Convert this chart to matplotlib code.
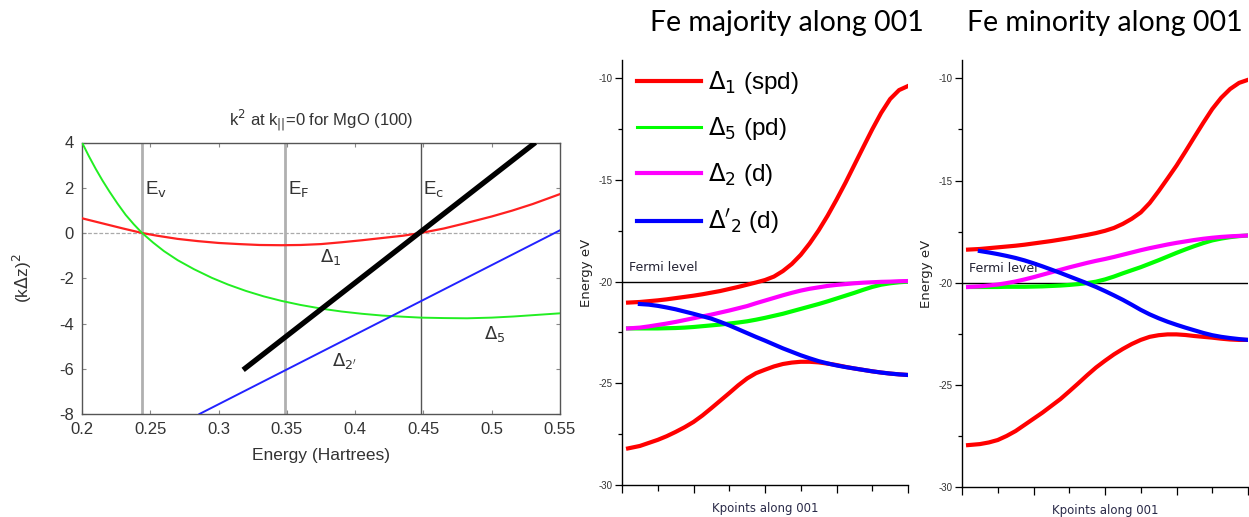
import numpy as np
import matplotlib
matplotlib.use("Agg")
import matplotlib.pyplot as plt
from matplotlib.ticker import MultipleLocator, FixedLocator

plt.rcParams['axes.unicode_minus'] = False
plt.rcParams['font.family'] = ['Liberation Sans', 'DejaVu Sans']

# ---------------- MgO complex band structure (k^2 vs energy) ----------------
mgo_energy_d1 = [0.200, 0.210, 0.220, 0.230, 0.244, 0.255, 0.270, 0.285, 0.300,
                 0.315, 0.330, 0.346, 0.360, 0.375, 0.390, 0.405, 0.420, 0.435,
                 0.448, 0.465, 0.480, 0.500, 0.515, 0.530, 0.550]
mgo_k2_d1 = [0.65, 0.50, 0.35, 0.20, 0.0, -0.12, -0.26, -0.36, -0.44,
             -0.49, -0.53, -0.54, -0.53, -0.49, -0.41, -0.32, -0.22, -0.12,
             0.0, 0.20, 0.42, 0.73, 0.99, 1.28, 1.72]

mgo_energy_d5 = [0.200, 0.205, 0.210, 0.215, 0.220, 0.226, 0.232, 0.238, 0.244,
                 0.252, 0.260, 0.270, 0.282, 0.295, 0.307, 0.320, 0.333, 0.346,
                 0.360, 0.376, 0.390, 0.405, 0.420, 0.435, 0.448, 0.465, 0.482,
                 0.500, 0.516, 0.533, 0.550]
mgo_k2_d5 = [4.00, 3.40, 2.84, 2.32, 1.84, 1.30, 0.80, 0.38, 0.0,
             -0.42, -0.80, -1.20, -1.60, -1.98, -2.28, -2.56, -2.80, -3.00,
             -3.18, -3.35, -3.47, -3.57, -3.65, -3.70, -3.74, -3.76, -3.77,
             -3.74, -3.69, -3.62, -3.55]

mgo_energy_d2p = [0.286, 0.550]
mgo_k2_d2p = [-8.0, 0.12]

mgo_energy_decay = [0.318, 0.532]
mgo_k2_decay = [-6.05, 4.0]

level_energy = [0.244, 0.349, 0.448]
level_names = [r'E$_\mathrm{v}$', r'E$_\mathrm{F}$', r'E$_\mathrm{c}$']

mgo_xticks = [0.2, 0.25, 0.3, 0.35, 0.4, 0.45, 0.5, 0.55]
mgo_xticklabels = ['0.2', '0.25', '0.3', '0.35', '0.4', '0.45', '0.5', '0.55']
mgo_yticks = [4, 2, 0, -2, -4, -6, -8]

# ---------------- Fe bands along 001 ----------------
kpts = [0.17, 0.5, 0.75, 1.0, 1.25, 1.5, 1.75, 2.0, 2.25, 2.5, 2.75, 3.0, 3.25, 3.5,
        3.75, 4.0, 4.25, 4.5, 4.75, 5.0, 5.25, 5.5, 5.75, 6.0, 6.25, 6.5, 6.75, 7.0,
        7.25, 7.5, 7.75, 8.0]

maj_d1_upper = [-21.03, -21.00, -20.96, -20.92, -20.87, -20.81, -20.75, -20.69,
                -20.62, -20.54, -20.46, -20.36, -20.26, -20.15, -20.04, -19.92,
                -19.75, -19.48, -19.13, -18.68, -18.12, -17.48, -16.76, -15.97,
                -15.14, -14.26, -13.38, -12.51, -11.70, -11.02, -10.58, -10.38]
maj_d1_lower = [-28.20, -28.08, -27.93, -27.78, -27.60, -27.39, -27.16, -26.90,
                -26.58, -26.22, -25.85, -25.48, -25.10, -24.76, -24.50, -24.33,
                -24.17, -24.05, -23.98, -23.94, -23.94, -23.97, -24.03, -24.10,
                -24.19, -24.27, -24.34, -24.41, -24.47, -24.52, -24.56, -24.59]
maj_d5 = [-22.30, -22.30, -22.30, -22.30, -22.29, -22.28, -22.26, -22.23,
          -22.19, -22.15, -22.11, -22.06, -22.01, -21.95, -21.87, -21.78,
          -21.68, -21.58, -21.46, -21.34, -21.22, -21.10, -20.97, -20.83,
          -20.69, -20.55, -20.40, -20.26, -20.15, -20.08, -20.03, -20.00]
maj_d2 = [-22.30, -22.26, -22.20, -22.13, -22.06, -21.98, -21.89, -21.80,
          -21.71, -21.62, -21.52, -21.42, -21.31, -21.20, -21.06, -20.93,
          -20.80, -20.67, -20.55, -20.44, -20.35, -20.28, -20.21, -20.16,
          -20.12, -20.08, -20.05, -20.03, -20.01, -20.00, -19.98, -19.97]
maj_d2p = [np.nan, -21.10, -21.13, -21.19, -21.27, -21.36, -21.47, -21.58,
           -21.70, -21.82, -21.98, -22.15, -22.34, -22.53, -22.72, -22.90,
           -23.09, -23.28, -23.45, -23.62, -23.77, -23.91, -24.02, -24.12,
           -24.20, -24.27, -24.34, -24.41, -24.47, -24.52, -24.56, -24.59]

min_d1_upper = [-18.38, -18.35, -18.31, -18.27, -18.23, -18.19, -18.14, -18.08,
                -18.02, -17.96, -17.89, -17.82, -17.74, -17.66, -17.57, -17.46,
                -17.32, -17.12, -16.87, -16.56, -16.10, -15.52, -14.90, -14.27,
                -13.58, -12.87, -12.17, -11.50, -10.95, -10.52, -10.22, -10.07]
min_d1_lower = [-27.95, -27.90, -27.82, -27.70, -27.50, -27.26, -26.96, -26.66,
                -26.36, -26.03, -25.70, -25.32, -24.93, -24.53, -24.15, -23.82,
                -23.51, -23.24, -23.00, -22.80, -22.65, -22.57, -22.53, -22.53,
                -22.56, -22.61, -22.65, -22.69, -22.74, -22.78, -22.80, -22.80]
min_d5 = [-20.21, -20.21, -20.21, -20.21, -20.20, -20.20, -20.20, -20.19,
          -20.18, -20.16, -20.14, -20.11, -20.07, -20.02, -19.95, -19.84,
          -19.70, -19.54, -19.39, -19.24, -19.07, -18.90, -18.72, -18.54,
          -18.37, -18.21, -18.06, -17.93, -17.84, -17.77, -17.72, -17.69]
min_d2 = [-20.21, -20.18, -20.14, -20.09, -20.02, -19.94, -19.84, -19.73,
          -19.61, -19.49, -19.37, -19.25, -19.14, -19.03, -18.93, -18.84,
          -18.74, -18.63, -18.52, -18.41, -18.31, -18.22, -18.13, -18.05,
          -17.98, -17.91, -17.85, -17.80, -17.76, -17.73, -17.71, -17.69]
min_d2p = [np.nan, -18.45, -18.52, -18.60, -18.69, -18.79, -18.91, -19.05,
           -19.20, -19.36, -19.52, -19.69, -19.86, -20.03, -20.21, -20.41,
           -20.62, -20.84, -21.08, -21.33, -21.55, -21.74, -21.91, -22.06,
           -22.20, -22.33, -22.46, -22.57, -22.65, -22.71, -22.76, -22.80]

fermi_energy = -20.0
fe_yticks = [-10, -15, -20, -25, -30]
band_labels = [r'$\Delta_1$ (spd)', r'$\Delta_5$ (pd)', r'$\Delta_2$ (d)', r"$\Delta'_2$ (d)"]
band_colors = ['#ff0000', '#00ff00', '#ff00ff', '#0000ff']

W, H = 1249, 517
fig = plt.figure(figsize=(W / 100, H / 100), dpi=100)
fig.patch.set_facecolor('white')


def frac(left, top, right, bottom):
    return [left / W, 1 - bottom / H, (right - left) / W, (bottom - top) / H]


# ---------------- left panel ----------------
ax0 = fig.add_axes(frac(82, 142.5, 560, 414))
txt = '#333333'
ax0.axhline(0, color='#aaaaaa', lw=0.9, ls=(0, (3, 1.5)), zorder=1)
for e, c, w in zip(level_energy, ['#b0b0b0', '#b0b0b0', '#555555'], [2.0, 2.0, 1.0]):
    ax0.axvline(e, color=c, lw=w, zorder=1)
ax0.plot(mgo_energy_d1, mgo_k2_d1, color='#ff2020', lw=1.6, zorder=3)
ax0.plot(mgo_energy_d5, mgo_k2_d5, color='#22ee22', lw=1.4, zorder=3)
ax0.plot(mgo_energy_d2p, mgo_k2_d2p, color='#2222ff', lw=1.4, zorder=3)
ax0.plot(mgo_energy_decay, mgo_k2_decay, color='black', lw=3.8,
         solid_capstyle='butt', zorder=4)

for e, name in zip(level_energy, level_names):
    ax0.text(e + 0.002, 1.9, name, fontsize=13.5, color=txt, va='center', ha='left')
ax0.text(0.374, -1.05, r'$\Delta_1$', fontsize=13, color=txt, va='center')
ax0.text(0.383, -5.65, r"$\Delta_{2'}$", fontsize=13, color=txt, va='center')
ax0.text(0.494, -4.45, r'$\Delta_5$', fontsize=13, color=txt, va='center')

ax0.set_xlim(0.2, 0.55)
ax0.set_ylim(-8, 4)
ax0.xaxis.set_major_locator(FixedLocator(mgo_xticks))
ax0.set_xticklabels(mgo_xticklabels)
ax0.yaxis.set_major_locator(FixedLocator(mgo_yticks))
ax0.tick_params(direction='in', length=3, width=0.8, color='#888888',
                top=True, right=True, labelsize=12, labelcolor=txt, pad=6)
for s in ax0.spines.values():
    s.set_color('#555555')
    s.set_linewidth(1.0)
ax0.set_xlabel('Energy (Hartrees)', fontsize=12.5, color=txt, labelpad=8)
ax0.set_ylabel(r'(k$\Delta$z)$^2$', fontsize=12.5, color=txt, labelpad=18)
ax0.set_title(r'k$^2$ at k$_{||}$=0 for MgO (100)', fontsize=12, color=txt, pad=12)


# ---------------- Fe panels ----------------
def fe_panel(rect, upper, lower, d5, d2, d2p, title, title_x):
    ax = fig.add_axes(rect)
    ax.axhline(fermi_energy, color='black', lw=1.0, zorder=1)
    ax.plot(kpts, upper, color=band_colors[0], lw=3.0, zorder=2)
    ax.plot(kpts, lower, color=band_colors[0], lw=3.0, zorder=2)
    ax.plot(kpts, d5, color=band_colors[1], lw=3.0, zorder=3)
    ax.plot(kpts, d2, color=band_colors[2], lw=3.0, zorder=4)
    ax.plot(kpts, d2p, color=band_colors[3], lw=3.0, zorder=5)
    ax.text(0.2, -19.3, 'Fermi level', fontsize=9, color='#222233',
            family='DejaVu Sans', va='center', ha='left')
    ax.set_xlim(0, 8)
    ax.set_ylim(-30, -9.1)
    ax.yaxis.set_major_locator(FixedLocator(fe_yticks))
    ax.yaxis.set_minor_locator(MultipleLocator(2.5))
    ax.xaxis.set_major_locator(MultipleLocator(2))
    ax.xaxis.set_minor_locator(MultipleLocator(1))
    ax.set_xticklabels([])
    ax.tick_params(axis='y', which='major', length=5, width=0.9, labelsize=7,
                   labelcolor='#333333', pad=2)
    ax.tick_params(axis='y', which='minor', length=3, width=0.9)
    ax.tick_params(axis='x', which='major', length=6, width=0.9, pad=0)
    ax.tick_params(axis='x', which='minor', length=4, width=0.9)
    for side in ['top', 'right']:
        ax.spines[side].set_visible(False)
    for side in ['left', 'bottom']:
        ax.spines[side].set_linewidth(1.0)
    ax.set_xlabel('Kpoints along 001', fontsize=8.5, color='#2a2a48',
                  family='DejaVu Sans', labelpad=5)
    ax.set_ylabel('Energy eV', fontsize=9.5, color='#222222',
                  family='DejaVu Sans', labelpad=4)
    fig.text(title_x, 1 - 23 / H, title, fontsize=20.5, family='Lato',
             ha='center', va='center', color='black')
    return ax


ax1 = fe_panel(frac(622, 60, 908, 485), maj_d1_upper, maj_d1_lower, maj_d5, maj_d2,
               maj_d2p, 'Fe majority along 001', 787 / W)
ax2 = fe_panel(frac(962, 60, 1248, 487), min_d1_upper, min_d1_lower, min_d5, min_d2,
               min_d2p, 'Fe minority along 001', 1105 / W)

handles = []
for c, lab in zip(band_colors, band_labels):
    lw = 2.2 if c == '#00ff00' else 3.0
    h, = ax1.plot([], [], color=c, lw=lw, label=lab)
    handles.append(h)
ax1.legend(handles=handles, loc='upper left', bbox_to_anchor=(0.0, 1.012),
           frameon=False, fontsize=17.5, handlelength=2.65, handletextpad=0.3,
           labelspacing=0.78, borderaxespad=0.2)

fig.savefig('out.png', dpi=100, facecolor='white')
